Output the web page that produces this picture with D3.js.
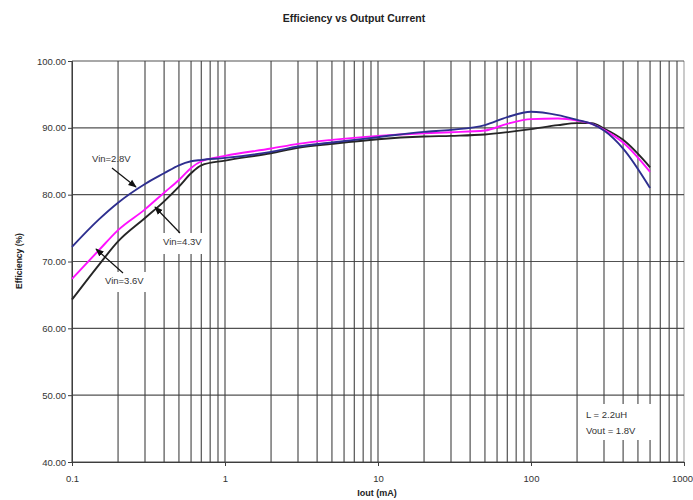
<!DOCTYPE html>
<html>
<head>
<meta charset="utf-8">
<script src="https://cdn.jsdelivr.net/npm/d3@7"></script>
<style>
  body { margin: 0; background: #fff; }
  svg { display: block; font-family: Arial, "Liberation Sans", sans-serif; }
</style>
</head>
<body>
<div id="chart"></div>
<script>
// Iout (mA) sample points
const iout = [0.1, 0.15, 0.2, 0.3, 0.4, 0.5, 0.6, 0.7, 1, 2, 3, 5, 10, 20, 30, 50, 70, 100, 150, 200, 250, 300, 400, 600];

// efficiency (%) per input voltage
const eff28 = [72.2, 76.3, 78.8, 81.6, 83.2, 84.4, 85.0, 85.2, 85.5, 86.4, 87.2, 87.8, 88.6, 89.4, 89.7, 90.4, 91.6, 92.4, 91.9, 91.2, 90.6, 89.6, 86.9, 81.0];
const eff36 = [64.3, 69.5, 73.0, 76.5, 79.0, 81.2, 83.2, 84.4, 85.1, 86.2, 87.0, 87.6, 88.3, 88.7, 88.8, 89.0, 89.35, 89.8, 90.4, 90.7, 90.7, 89.9, 88.2, 84.1];
const eff43 = [67.4, 71.7, 74.7, 77.8, 80.3, 82.2, 84.0, 85.0, 85.8, 86.9, 87.6, 88.2, 88.8, 89.2, 89.35, 89.6, 90.6, 91.3, 91.4, 91.1, 90.6, 89.7, 87.8, 83.4];

const yTicks = [40, 50, 60, 70, 80, 90, 100];
const xTicks = [0.1, 1, 10, 100, 1000];

const width = 693, height = 500;
const margin = { top: 61, right: 9, bottom: 38, left: 72 };

const svg = d3.select("#chart").append("svg")
    .attr("width", width)
    .attr("height", height);

const x = d3.scaleLog().domain([0.1, 1000]).range([margin.left, width - margin.right]);
const y = d3.scaleLinear().domain([40, 100]).range([height - margin.bottom, margin.top]);

const gridColor = "#3e3e3e";

// vertical grid: every decade step
const minor = [];
for (let d = 0.1; d < 1000; d *= 10) {
  for (let k = 1; k <= 9; k++) minor.push(+(d * k).toPrecision(3));
}
minor.push(1000);

svg.append("g")
  .selectAll("line")
  .data(minor)
  .enter()
  .append("line")
  .attr("x1", d => x(d)).attr("x2", d => x(d))
  .attr("y1", y(100)).attr("y2", y(40))
  .attr("stroke", gridColor)
  .attr("stroke-opacity", d => d === 1000 ? 0.45 : 0.9)
  .attr("stroke-width", 1.2);

svg.append("g")
  .selectAll("line")
  .data(yTicks)
  .enter()
  .append("line")
  .attr("x1", x(0.1)).attr("x2", x(1000))
  .attr("y1", d => y(d)).attr("y2", d => y(d))
  .attr("stroke", gridColor)
  .attr("stroke-opacity", 0.9)
  .attr("stroke-width", 1.2);

// axes
const yAxis = d3.axisLeft(y).tickValues(yTicks).tickFormat(d3.format(".2f")).tickSize(4).tickPadding(2);
const gy = svg.append("g").attr("transform", `translate(${margin.left},0)`).call(yAxis);
gy.select(".domain").attr("stroke", gridColor);
gy.selectAll(".tick line").attr("stroke", gridColor);
gy.selectAll("text").attr("font-size", 9.5).attr("fill", "#333");

const xAxis = d3.axisBottom(x).tickValues(xTicks).tickFormat(d => String(d)).tickSize(4).tickPadding(9);
const gx = svg.append("g").attr("transform", `translate(0,${y(40)})`).call(xAxis);
gx.select(".domain").attr("stroke", gridColor);
gx.selectAll(".tick line").attr("stroke", gridColor);
gx.selectAll("text").attr("font-size", 9.5).attr("fill", "#333");
// keep the last label inside the window
gx.selectAll(".tick text").filter(d => d === 1000)
  .attr("text-anchor", "end").attr("dx", "0.9em");

// white label boxes that cut the grid
const boxes = [
  { x: 102, y: 272, w: 48, h: 20 },
  { x: 158, y: 233, w: 50, h: 21 },
  { x: 582, y: 404, w: 72, h: 36 }
];
svg.append("g")
  .selectAll("rect")
  .data(boxes)
  .enter()
  .append("rect")
  .attr("x", d => d.x).attr("y", d => d.y)
  .attr("width", d => d.w).attr("height", d => d.h)
  .attr("fill", "#fff");

// curves
const series = [
  { name: "Vin=3.6V", values: eff36, color: "#262626" },
  { name: "Vin=4.3V", values: eff43, color: "#ff10ff" },
  { name: "Vin=2.8V", values: eff28, color: "#2e2f8f" }
];

const line = d3.line()
  .x(d => x(d[0]))
  .y(d => y(d[1]))
  .curve(d3.curveMonotoneX);

svg.append("g")
  .selectAll("path")
  .data(series)
  .enter()
  .append("path")
  .attr("d", s => line(iout.map((v, i) => [v, s.values[i]])))
  .attr("fill", "none")
  .attr("stroke", s => s.color)
  .attr("stroke-width", 1.9);

// annotations with arrows
svg.append("defs").append("marker")
  .attr("id", "arrow")
  .attr("viewBox", "0 0 10 10")
  .attr("refX", 9).attr("refY", 5)
  .attr("markerWidth", 7).attr("markerHeight", 7)
  .attr("orient", "auto")
  .append("path")
  .attr("d", "M0,1 L10,5 L0,9 Z")
  .attr("fill", "#111");

const notes = [
  { text: "Vin=2.8V", tx: 92, ty: 162, x1: 112, y1: 168, x2: 136, y2: 187 },
  { text: "Vin=4.3V", tx: 163, ty: 245, x1: 180, y1: 233, x2: 155, y2: 207 },
  { text: "Vin=3.6V", tx: 105, ty: 284, x1: 123, y1: 273, x2: 96, y2: 249 }
];

const ng = svg.append("g");
ng.selectAll("line")
  .data(notes)
  .enter()
  .append("line")
  .attr("x1", d => d.x1).attr("y1", d => d.y1)
  .attr("x2", d => d.x2).attr("y2", d => d.y2)
  .attr("stroke", "#111")
  .attr("stroke-width", 1.2)
  .attr("marker-end", "url(#arrow)");
ng.selectAll("text")
  .data(notes)
  .enter()
  .append("text")
  .attr("x", d => d.tx).attr("y", d => d.ty)
  .attr("font-size", 9.5)
  .attr("fill", "#333")
  .text(d => d.text);

svg.append("text").attr("x", 586).attr("y", 418).attr("font-size", 9.5).attr("fill", "#333").text("L = 2.2uH");
svg.append("text").attr("x", 586).attr("y", 434).attr("font-size", 9.5).attr("fill", "#333").text("Vout = 1.8V");

// titles
svg.append("text")
  .attr("x", 354).attr("y", 22)
  .attr("text-anchor", "middle")
  .attr("font-size", 10.5)
  .attr("font-weight", "bold")
  .attr("fill", "#222")
  .text("Efficiency vs Output Current");

svg.append("text")
  .attr("transform", "translate(22,261) rotate(-90)")
  .attr("text-anchor", "middle")
  .attr("font-size", 8.5)
  .attr("font-weight", "bold")
  .attr("fill", "#222")
  .text("Efficiency (%)");

svg.append("text")
  .attr("x", 377).attr("y", 496)
  .attr("text-anchor", "middle")
  .attr("font-size", 9)
  .attr("font-weight", "bold")
  .attr("fill", "#222")
  .text("Iout (mA)");
</script>
</body>
</html>
